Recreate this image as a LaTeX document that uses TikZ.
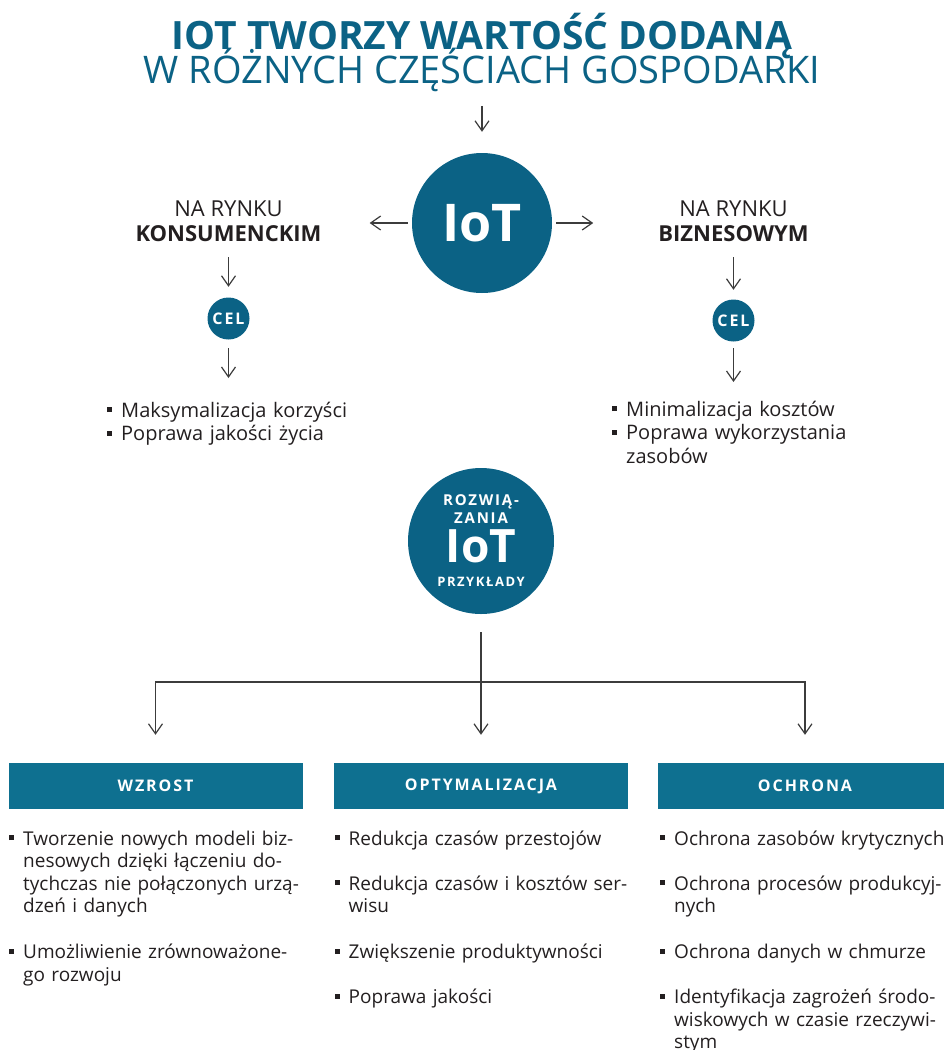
\documentclass[tikz,border=0pt]{standalone}
\usepackage{fontspec}
\setmainfont{Open Sans}
\newfontfamily\rozstrzelony[LetterSpace=12]{Open Sans}
\usetikzlibrary{arrows.meta}

\definecolor{morski}{HTML}{0B6285}
\definecolor{naglowek}{HTML}{0E7090}
\definecolor{tekst}{HTML}{231F20}
\definecolor{linia}{HTML}{3C3C3C}

% punkt listy: kwadracik + tekst z wcieciem
\newcommand{\pkt}[2][0pt]{\par\vspace{#1}\noindent\hbox to 14pt{\rule[5pt]{5pt}{5pt}\hss}\parbox[t]{300pt}{\strut#2\strut}}

\begin{document}
\begin{tikzpicture}[x=1pt, y=-1pt, >={Straight Barb[length=10pt,width=14pt]},
        strz/.style={->, draw=linia, line width=1.2pt},
        kolo/.style={circle, fill=morski, text=white, inner sep=0pt},
        pasek/.style={rectangle, fill=naglowek, text=white, minimum width=294pt, minimum height=46pt, inner sep=0pt,
            font=\rozstrzelony\bfseries\fontsize{16}{16}\selectfont},
        rynek/.style={anchor=north, align=center, inner sep=0pt, text=tekst, font=\fontsize{22}{25}\selectfont},
        lista/.style={anchor=north west, inner sep=0pt, align=left, text width=320pt, text=tekst}]
        \useasboundingbox (0,0) rectangle (944,1050);

        % tytul
        \node (tytul1) at (482,49) [anchor=base, text=morski, font=\bfseries\fontsize{39}{39}\selectfont] {IOT TWORZY WARTOŚĆ DODANĄ};
        \node (tytul2) at (482,83) [anchor=base, text=morski, font=\fontsize{38}{38}\selectfont] {W RÓŻNYCH CZĘŚCIACH GOSPODARKI};

        % gorna czesc
        \node (iot) at (482,223) [kolo, minimum size=140pt, font=\bfseries\fontsize{52}{52}\selectfont] {IoT};
        \node (konsument) at (228.5,201) [rynek] {NA RYNKU\\\textbf{KONSUMENCKIM}};
        \node (biznes) at (733.5,201) [rynek] {NA RYNKU\\\textbf{BIZNESOWYM}};
        \node (celL) at (228.5,318.5) [kolo, minimum size=42pt, font=\rozstrzelony\bfseries\fontsize{16}{16}\selectfont] {CEL};
        \node (celR) at (733.5,320.5) [kolo, minimum size=42pt, font=\rozstrzelony\bfseries\fontsize{16}{16}\selectfont] {CEL};
        \node (korzysci) at (107,393.5) [lista, font=\fontsize{20}{23.5}\selectfont]
            {\pkt{Maksymalizacja korzyści}\pkt{Poprawa jakości życia}};
        \node (koszty) at (612,392.5) [lista, font=\fontsize{20}{23.5}\selectfont]
            {\pkt{Minimalizacja kosztów}\pkt{Poprawa wykorzystania\\zasobów}};

        \draw[strz, shorten <=11pt, shorten >=21pt] (tytul2) -- (iot);
        \draw[strz, shorten <=4pt, shorten >=48pt] (iot.west) -- (konsument.east |- iot.west);
        \draw[strz, shorten <=4pt, shorten >=65pt] (iot.east) -- (biznes.west |- iot.east);
        \draw[strz, shorten <=15pt, shorten >=10.5pt] (konsument) -- (celL);
        \draw[strz, shorten <=15pt, shorten >=9.5pt] (biznes) -- (celR);
        \draw[strz, shorten <=8.5pt, shorten >=15.5pt] (celL) -- (celL |- korzysci.north);
        \draw[strz, shorten <=6.5pt, shorten >=10.5pt] (celR) -- (celR |- koszty.north);

        % rozwiazania
        \node (rozw) at (481,541) [kolo, minimum size=146pt]
            {\parbox{100pt}{\centering\rozstrzelony\bfseries\fontsize{15}{18}\selectfont
            ROZWIĄ-\\ZANIA\\[5.2pt]{\normalfont\bfseries\fontsize{46}{46}\selectfont IoT}\\[6pt]{\fontsize{13}{13}\selectfont PRZYKŁADY}}};

        \node (wzrost) at (155.5,786) [pasek] {WZROST};
        \node (optym) at (481,786) [pasek] {OPTYMALIZACJA};
        \node (ochrona) at (805,786) [pasek] {OCHRONA};
        \coordinate (rozgal) at (481,682);

        \draw[strz, shorten <=18pt, shorten >=28pt] (rozw) -- (optym);
        \draw[strz, shorten >=28pt] (rozgal) -| (wzrost);
        \draw[strz, shorten >=28pt] (rozgal) -| (ochrona);

        \node (lista1) at (9,822.5) [lista, font=\fontsize{19}{22.5}\selectfont]
            {\pkt{Tworzenie nowych modeli biz-\\nesowych dzięki łączeniu do-\\tychczas nie połączonych urzą-\\dzeń i danych}
            \pkt[22.5pt]{Umożliwienie zrównoważone-\\go rozwoju}};
        \node (lista2) at (334.5,822.5) [lista, font=\fontsize{19}{22.5}\selectfont]
            {\pkt{Redukcja czasów przestojów}
            \pkt[22.5pt]{Redukcja czasów i kosztów ser-\\wisu}
            \pkt[22.5pt]{Zwiększenie produktywności}
            \pkt[22.5pt]{Poprawa jakości}};
        \node (lista3) at (660,822.5) [lista, font=\fontsize{19}{22.5}\selectfont]
            {\pkt{Ochrona zasobów krytycznych}
            \pkt[22.5pt]{Ochrona procesów produkcyj-\\nych}
            \pkt[22.5pt]{Ochrona danych w chmurze}
            \pkt[22.5pt]{Identyfikacja zagrożeń środo-\\wiskowych w czasie rzeczywi-\\stym}};

\end{tikzpicture}
\end{document}
